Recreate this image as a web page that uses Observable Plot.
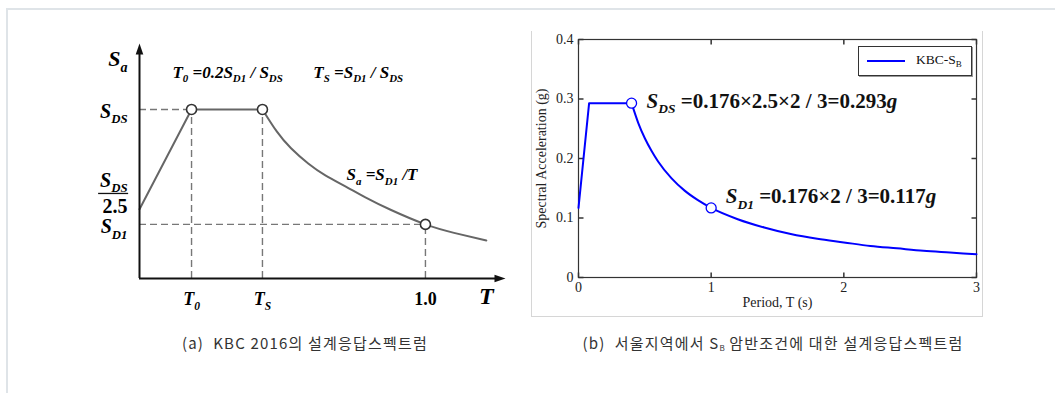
<!DOCTYPE html>
<html><head><meta charset="utf-8">
<script src="https://cdn.jsdelivr.net/npm/d3@7"></script>
<script src="https://cdn.jsdelivr.net/npm/@observablehq/plot@0.6"></script>
<style>
html,body{margin:0;padding:0;background:#fff;}
#page{position:relative;width:1055px;height:393px;overflow:hidden;}
#outer{position:absolute;left:6px;top:8px;width:1100px;height:500px;border-top:2px solid #dfe4e8;border-left:2px solid #dfe4e8;}
#boxB{position:absolute;left:531px;top:31px;width:450px;height:285px;border-left:1px solid #d6d6d6;border-right:1px solid #d6d6d6;border-bottom:1px solid #d6d6d6;}
#panelA{position:absolute;left:0;top:0;}
#panelB{position:absolute;left:525px;top:0;}
#legend{position:absolute;left:858px;top:46px;width:112px;height:28px;border:1px solid #333;box-shadow:1px 1px 0 #999;background:#fff;font-family:"Liberation Serif","Times New Roman",serif;font-size:13.5px;color:#111;}
#legend .ln{position:absolute;left:8px;top:13px;width:38px;height:2px;background:#0000ff;}
#legend .tx{position:absolute;left:57px;top:5px;white-space:nowrap;}
#legend sub{font-size:9px;vertical-align:-3px;}
.cap{position:absolute;top:333px;font-family:"Noto Sans CJK KR","Noto Sans",sans-serif;font-size:15px;letter-spacing:1.2px;color:#333;white-space:nowrap;transform:translateX(-50%);line-height:20px;}
.cap sub{font-size:8px;vertical-align:-2px;letter-spacing:0;}
svg text{white-space:pre;}
</style></head>
<body>
<div id="page">
  <div id="outer"></div>
  <div id="boxB"></div>
  <div id="panelA"></div>
  <div id="panelB"></div>
  <div id="legend"><div class="ln"></div><div class="tx">KBC-S<sub>B</sub></div></div>
  <div class="cap" style="left:305px">(a)&nbsp; KBC 2016의 설계응답스펙트럼</div>
  <div class="cap" style="left:773px">(b)&nbsp; 서울지역에서 S<sub>B</sub> 암반조건에 대한 설계응답스펙트럼</div>
</div>
<script>
// ---------- Panel (a): schematic design spectrum ----------
const rampT  = [0, 0.182, 0.43];
const rampSa = [0.41, 1, 1];
const decayT  = [0.43, 0.48, 0.53, 0.59, 0.65, 0.72, 0.79, 0.88, 1.0, 1.1, 1.213];
const decaySa = [1.0, 0.87, 0.77, 0.68, 0.61, 0.545, 0.48, 0.405, 0.32, 0.27, 0.225];
const keyT  = [0.182, 0.43, 1.0];
const keySa = [1, 1, 0.32];
const hGuideIdx = [0, 2];
const axisEndT = 1.28, axisEndSa = 1.39;
const xLabA  = ["T_{0}", "T_{S}", "~1.0~"];
const yLabAText = ["S_{a}", "S_{DS}", "S_{DS}", "~2.5~", "S_{D1}"];
const yLabAVal  = [1.3, 0.99, 0.58, 0.426, 0.305];
const yLabASize = [22, 20, 20, 20, 20];
const fracBarT = [-0.143, -0.038], fracBarSa = 0.503;
const formulaText = ["T_{0} =0.2S_{D1} / S_{DS}", "T_{S} =S_{D1} / S_{DS}", "S_{a} =S_{D1} /T"];
const formulaT  = [0.115, 0.608, 0.724];
const formulaSa = [1.219, 1.219, 0.615];

// ---------- Panel (b): Seoul, site class SB ----------
const rampBT  = [0, 0.08, 0.4];
const rampBSa = [0.117, 0.293, 0.293];
const decayBT  = [0.4, 0.45, 0.5, 0.55, 0.6, 0.7, 0.8, 0.9, 1.0, 1.2, 1.4, 1.6, 1.8, 2.0, 2.2, 2.4, 2.6, 2.8, 3.0];
const decayBSa = [0.293, 0.260, 0.234, 0.213, 0.195, 0.167, 0.146, 0.130, 0.117, 0.098, 0.084, 0.073, 0.065, 0.059, 0.053, 0.049, 0.045, 0.042, 0.039];
const markT  = [0.4, 1.0];
const markSa = [0.293, 0.117];
const noteText = ["*S*_{DS} =0.176×2.5×2 / 3=0.293*g*", "*S*_{D1} =0.176×2 / 3=0.117*g*"];
const noteT  = [0.513, 1.11];
const noteSa = [0.297, 0.136];
const xTicksB = [0, 1, 2, 3];
const yTicksB = [0, 0.1, 0.2, 0.3, 0.4];
const xLabelB = "Period, T (s)";
const yLabelB = "Spectral Acceleration (g)";

// ---------- helpers ----------
const zip = (xs, ys) => xs.map((x, i) => ({x, y: ys[i]}));
const serif = '"Liberation Serif", "Times New Roman", serif';
const boldIt = {fontFamily: serif, fontWeight: "bold", fontStyle: "italic"};
const arrowUp = {draw(c){ c.moveTo(0,0); c.lineTo(-3.8,11); c.lineTo(3.8,11); c.closePath(); }};
const arrowRight = {draw(c){ c.moveTo(0,0); c.lineTo(-11,-3.8); c.lineTo(-11,3.8); c.closePath(); }};
const tk = 5;
const tickUp = {draw(c){ c.moveTo(0,0); c.lineTo(0,-tk); }};
const tickDown = {draw(c){ c.moveTo(0,0); c.lineTo(0,tk); }};
const tickRight = {draw(c){ c.moveTo(0,0); c.lineTo(tk,0); }};
const tickLeft = {draw(c){ c.moveTo(0,0); c.lineTo(-tk,0); }};

// markup: _{sub} subscript, *x* italic, ~x~ upright
function applyRich(svg) {
  d3.select(svg).selectAll("text").each(function() {
    const s = this.textContent;
    if (!/_\{|\*|~/.test(s)) return;
    const t = d3.select(this);
    t.text(null);
    const tokens = s.split(/(_\{[^}]*\}|\*[^*]*\*|~[^~]*~)/).filter(x => x);
    let shifted = false;
    for (const tok of tokens) {
      const m = tok.match(/^_\{(.*)\}$/);
      if (m) {
        t.append("tspan").attr("font-size", "64%").attr("font-style", "italic").attr("dy", "0.42em").text(m[1]);
        shifted = true;
      } else {
        const it = tok.match(/^\*(.*)\*$/);
        const up = tok.match(/^~(.*)~$/);
        const sp = t.append("tspan").text(it ? it[1] : up ? up[1] : tok);
        if (it) sp.attr("font-style", "italic");
        if (up) sp.attr("font-style", "normal");
        if (shifted) { sp.attr("dy", (-0.42 * 0.64).toFixed(4) + "em"); shifted = false; }
      }
    }
  });
}

const keyA = zip(keyT, keySa);
const guideStyle = {stroke: "#777", strokeWidth: 1.4, strokeDasharray: "7,4"};

const plotA = Plot.plot({
  width: 520, height: 320,
  marginLeft: 139, marginRight: 15, marginTop: 43, marginBottom: 42,
  x: {domain: [0, axisEndT], axis: null},
  y: {domain: [0, axisEndSa], axis: null},
  style: {background: "transparent", overflow: "visible", fontFamily: serif},
  marks: [
    Plot.ruleY(hGuideIdx.map(i => keyA[i]), {x1: 0, x2: "x", y: "y", ...guideStyle}),
    Plot.ruleX(keyA, {x: "x", y1: 0, y2: "y", ...guideStyle}),
    Plot.line(zip(rampT, rampSa), {x: "x", y: "y", stroke: "#666", strokeWidth: 2}),
    Plot.line(zip(decayT, decaySa), {x: "x", y: "y", curve: "natural", stroke: "#666", strokeWidth: 2}),
    Plot.ruleY([0], {x1: 0, x2: axisEndT - 0.02, stroke: "#111", strokeWidth: 2}),
    Plot.ruleX([0], {y1: 0, y2: axisEndSa - 0.03, stroke: "#111", strokeWidth: 2}),
    Plot.dot([0], {x: axisEndT, y: 0, symbol: arrowRight, fill: "#111", stroke: "none"}),
    Plot.dot([0], {x: 0, y: axisEndSa, symbol: arrowUp, fill: "#111", stroke: "none"}),
    Plot.dot(keyA, {x: "x", y: "y", r: 5, fill: "white", stroke: "#333", strokeWidth: 1.6}),
    Plot.ruleY([fracBarSa], {x1: fracBarT[0], x2: fracBarT[1], stroke: "#111", strokeWidth: 1.3}),
    Plot.text(yLabAText.map((t, i) => ({t, y: yLabAVal[i], s: yLabASize[i]})), {x: 0, y: "y", text: "t", textAnchor: "end", dx: -12, fontSize: "s", ...boldIt}),
    Plot.text(xLabA.map((t, i) => ({t, x: keyT[i]})), {x: "x", y: 0, text: "t", dy: 21, fontSize: 18, ...boldIt}),
    Plot.text(["T"], {x: 1.213, y: 0, text: d => d, dy: 18, fontSize: 24, ...boldIt}),
    Plot.text(formulaText.map((t, i) => ({t, x: formulaT[i], y: formulaSa[i]})), {x: "x", y: "y", text: "t", textAnchor: "start", fontSize: 17, ...boldIt})
  ]
});
plotA.style.maxWidth = "none";
applyRich(plotA);
document.getElementById("panelA").appendChild(plotA);

const blue = "#0000ff";
const plotB = Plot.plot({
  width: 461, height: 330,
  marginLeft: 53, marginRight: 10, marginTop: 39, marginBottom: 53,
  x: {domain: [0, 3], ticks: xTicksB, tickSize: 0, tickPadding: 5, label: null, tickFormat: d => String(d)},
  y: {domain: [0, 0.4], ticks: yTicksB, tickSize: 0, tickPadding: 5, label: null, tickFormat: d => String(d)},
  style: {background: "transparent", overflow: "visible", fontFamily: serif, fontSize: "14px", color: "#222"},
  marks: [
    Plot.dot(xTicksB, {x: d => d, y: 0, symbol: tickUp, stroke: "#333", fill: "none"}),
    Plot.dot(xTicksB, {x: d => d, y: 0.4, symbol: tickDown, stroke: "#333", fill: "none"}),
    Plot.dot(yTicksB, {x: 0, y: d => d, symbol: tickRight, stroke: "#333", fill: "none"}),
    Plot.dot(yTicksB, {x: 3, y: d => d, symbol: tickLeft, stroke: "#333", fill: "none"}),
    Plot.frame({stroke: "#333", strokeWidth: 1.2}),
    Plot.line(zip(rampBT, rampBSa), {x: "x", y: "y", stroke: blue, strokeWidth: 2}),
    Plot.line(zip(decayBT, decayBSa), {x: "x", y: "y", curve: "monotone-x", stroke: blue, strokeWidth: 2}),
    Plot.dot(zip(markT, markSa), {x: "x", y: "y", r: 5, fill: "white", stroke: blue, strokeWidth: 1.3}),
    Plot.text(noteText.map((t, i) => ({t, x: noteT[i], y: noteSa[i]})), {x: "x", y: "y", text: "t", textAnchor: "start", fontSize: 21, fontWeight: "bold", fontFamily: serif, fill: "#111"}),
    Plot.text([xLabelB], {frameAnchor: "bottom", text: d => d, dy: 29, fontSize: 14}),
    Plot.text([yLabelB], {frameAnchor: "left", textAnchor: "middle", text: d => d, rotate: -90, dx: -37, fontSize: 14})
  ]
});
plotB.style.maxWidth = "none";
applyRich(plotB);
document.getElementById("panelB").appendChild(plotB);
</script>
</body></html>
